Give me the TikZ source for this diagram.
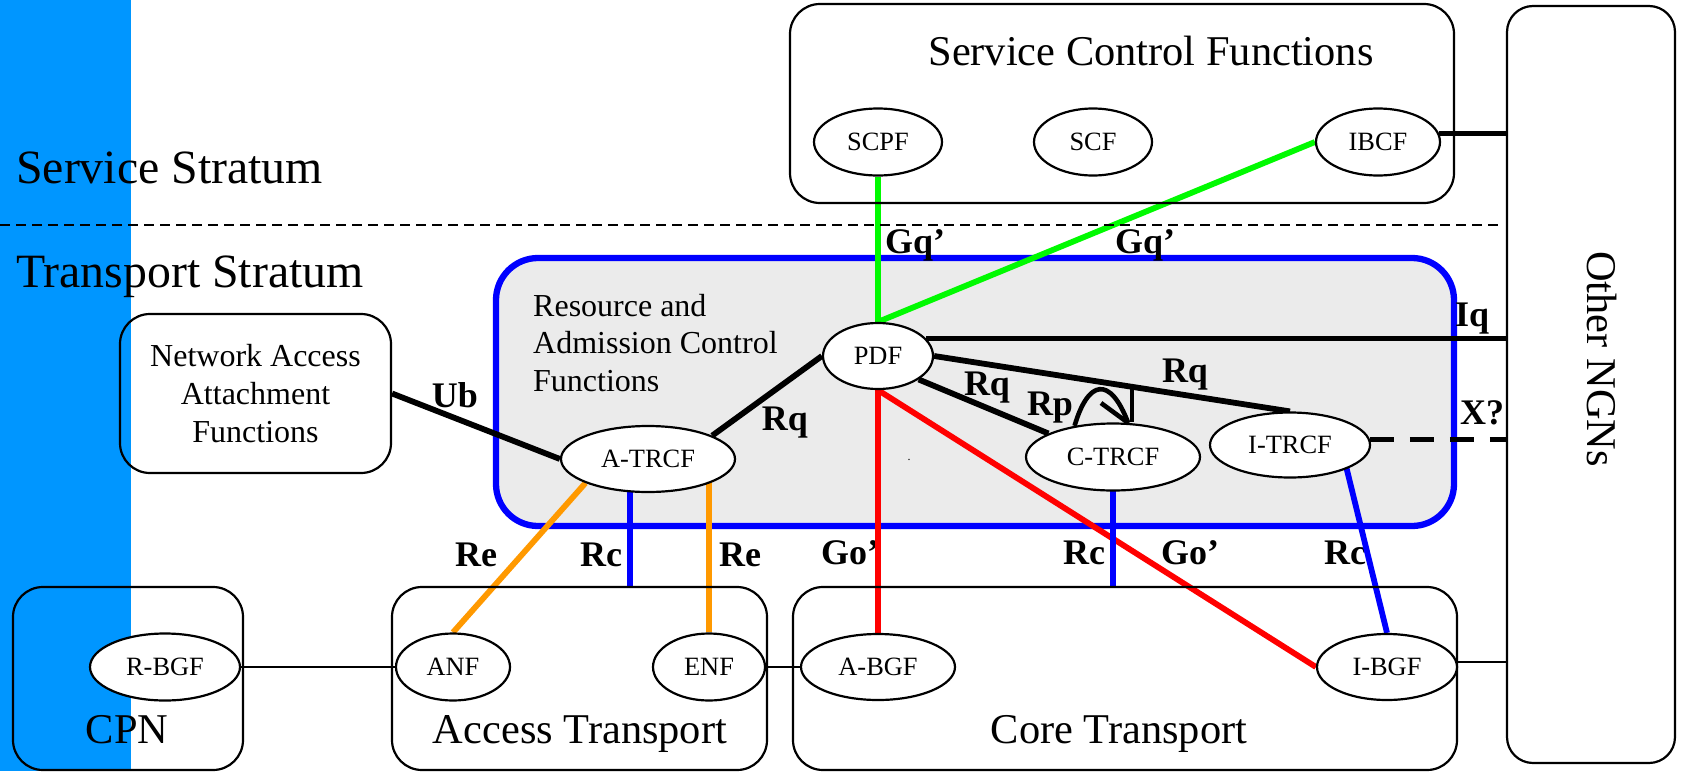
\documentclass[tikz,border=0pt]{standalone}
\usepackage{fontspec}
\setmainfont{Liberation Serif}
\usetikzlibrary{shapes.geometric}
\pgfdeclarelayer{bg}
\pgfdeclarelayer{lines}
\pgfsetlayers{bg,lines,main}
\definecolor{stripblue}{RGB}{0,150,255}
\definecolor{racfgray}{RGB}{235,235,235}
\definecolor{lgreen}{RGB}{0,250,0}
\definecolor{lorange}{RGB}{255,153,0}
\definecolor{lred}{RGB}{255,0,0}
\definecolor{lblue}{RGB}{0,0,255}
\begin{document}
\begin{tikzpicture}[x=1pt,y=-1pt,
  box/.style={draw, rounded corners=30pt, line width=2.2pt, inner sep=0pt},
  ell/.style={draw, ellipse, fill=white, line width=2.2pt, inner sep=0pt, font=\fontsize{26.4}{30}\selectfont},
  big/.style={font=\fontsize{42.4}{50}\selectfont, inner sep=0pt},
  strat/.style={font=\fontsize{47.8}{56}\selectfont, inner sep=0pt, anchor=base west},
  lab/.style={font=\fontsize{36}{40}\selectfont\bfseries, inner sep=0pt},
  thickblk/.style={line width=5.8pt, black},
  thinblk/.style={line width=2.2pt, black},
  col/.style={line width=5.8pt}]

\useasboundingbox (0,0) rectangle (1681,771);

% ---------- background layer ----------
\begin{pgfonlayer}{bg}
  \fill[white] (0,0) rectangle (1681,771);
  \fill[stripblue] (0,0) rectangle (131,771);
  \node[draw=lblue, fill=racfgray, line width=6.3pt, rounded corners=42pt,
        minimum width=958pt, minimum height=268pt, inner sep=0pt] (racf) at (975,392) {};
  % interface labels
  \node[lab] (gq1) at (915,245) {Gq’};
  \node[lab] (gq2) at (1145,245) {Gq’};
  \node[lab] (iq) at (1472,319) {Iq};
  \node[lab] (xq) at (1482,413) {X?};
  \node[lab] (ub) at (455,395) {Ub};
  \node[lab] (rq1) at (785,423) {Rq};
  \node[lab] (rq2) at (987,388) {Rq};
  \node[lab] (rp) at (1050,408) {Rp};
  \node[lab] (rq3) at (1185,375) {Rq};
  \node[lab] (re1) at (476,555) {Re};
  \node[lab] (rc1) at (601,555) {Rc};
  \node[lab] (re2) at (740,555) {Re};
  \node[lab] (go1) at (850,553) {Go’};
  \node[lab] (rc2) at (1084,553) {Rc};
  \node[lab] (go2) at (1190,553) {Go’};
  \node[lab] (rc3) at (1345,553) {Rc};
\end{pgfonlayer}

% ---------- stratum texts and separator ----------
\node[strat] (ss) at (16,183) {Service Stratum};
\node[strat] (ts) at (16,287) {Transport Stratum};
\coordinate (sepL) at (0,225);
\coordinate (sepR) at (1502,225);
\draw[line width=2pt, dash pattern=on 10pt off 6pt] (sepL) -- (sepR);

% ---------- boxes ----------
\node[box, minimum width=664pt, minimum height=199pt] (scfbox) at (1122,103.5) {};
\node[big, anchor=base] (scftxt) at (1151,65) {Service Control Functions};
\node[box, rounded corners=26pt, minimum width=168pt, minimum height=757pt] (ngn) at (1591,384.5) {};
\node[big, rotate=-90] (ngntxt) at (1602,359) {Other NGNs};
\node[box, minimum width=271pt, minimum height=159pt, align=center,
      font=\fontsize{32}{38}\selectfont] (naaf) at (255.5,393.5) {Network Access\\Attachment\\Functions};
\node[font=\fontsize{32}{37.5}\selectfont, align=left, anchor=west, inner sep=0pt] (racftxt)
      at (533,343) {Resource and\\Admission Control\\Functions};
\node[box, minimum width=230pt, minimum height=183pt] (cpn) at (128,678.5) {};
\node[box, minimum width=375pt, minimum height=183pt] (acc) at (579.5,678.5) {};
\node[box, minimum width=664pt, minimum height=183pt] (core) at (1125,678.5) {};
\node[big, anchor=base] (cpntxt) at (127,743) {CPN};
\node[big, anchor=base] (acctxt) at (580,743) {Access Transport};
\node[big, anchor=base] (coretxt) at (1119,743) {Core Transport};

% ---------- functional entities ----------
\node[ell, minimum width=128pt, minimum height=67pt] (scpf) at (878,142) {SCPF};
\node[ell, minimum width=118pt, minimum height=67pt] (scf) at (1093,142) {SCF};
\node[ell, minimum width=124pt, minimum height=67pt] (ibcf) at (1378,142) {IBCF};
\node[ell, minimum width=110pt, minimum height=66pt] (pdf) at (878,356) {PDF};
\node[ell, minimum width=174pt, minimum height=66pt] (atrcf) at (648,459) {A-TRCF};
\node[ell, minimum width=174pt, minimum height=67pt] (ctrcf) at (1113,457) {C-TRCF};
\node[ell, minimum width=160pt, minimum height=65pt] (itrcf) at (1290,445) {I-TRCF};
\node[ell, minimum width=150pt, minimum height=67pt] (rbgf) at (165,667) {R-BGF};
\node[ell, minimum width=114pt, minimum height=67pt] (anf) at (453,667) {ANF};
\node[ell, minimum width=112pt, minimum height=67pt] (enf) at (709,667) {ENF};
\node[ell, minimum width=154pt, minimum height=66pt] (abgf) at (878,667) {A-BGF};
\node[ell, minimum width=140pt, minimum height=66pt] (ibgf) at (1387,667) {I-BGF};
\node[font=\fontsize{12}{12}\selectfont, inner sep=0pt] (dot) at (909,460) {.};

% ---------- connectors ----------
\begin{pgfonlayer}{lines}
  % Gq'
  \draw[col, lgreen] (scpf.south) -- (pdf.north);
  \draw[col, lgreen] (ibcf.west) -- (pdf.north);
  % Go'
  \draw[col, lred] (pdf.south) -- (abgf.north);
  \draw[col, lred] (pdf.south) -- (ibgf.west);
  % Re
  \draw[col, lorange] (atrcf.201) -- (anf.north);
  \draw[col, lorange] (enf.north |- atrcf.center) -- (enf.north);
  % Rc
  \coordinate (rcA) at (630,587);
  \draw[col, lblue] (rcA |- atrcf.center) -- (rcA);
  \draw[col, lblue] (ctrcf.center) -- (ctrcf.center |- core.north);
  \coordinate (rcI) at (1345,462);
  \draw[col, lblue] (rcI) -- (ibgf.north);
  % black reference points
  \draw[thickblk] (naaf.east) -- (atrcf.west);
  \draw[thickblk] (atrcf.20) -- (pdf.west);
  \draw[thickblk] (pdf.20) -- (pdf.20 -| ngn.west);
  \draw[thickblk] (pdf.-30) -- (ctrcf.160);
  \draw[thickblk] (pdf.east) -- (itrcf.north);
  \draw[thickblk, dash pattern=on 24pt off 16pt] (itrcf.4) -- (itrcf.4 -| ngn.west);
  \draw[thickblk] (ibcf.8) -- (ibcf.8 -| ngn.west);
  \draw[thinblk] (rbgf.east) -- (anf.west);
  \draw[thinblk] (enf.east) -- (abgf.west);
  \draw[thinblk] (ibgf.4) -- (ibgf.4 -| ngn.west);
  % Rp
  \draw[line width=4.6pt] (ctrcf.141) .. controls (1088,380) and (1110,375) .. (ctrcf.66);
  \coordinate (rpTip) at (1101,403);
  \draw[line width=4.6pt] (rpTip) -- (ctrcf.66);
  \coordinate (rpv) at (1132,387);
  \draw[line width=4.6pt] (rpv) -- (rpv |- ctrcf.north);
\end{pgfonlayer}
\end{tikzpicture}
\end{document}
